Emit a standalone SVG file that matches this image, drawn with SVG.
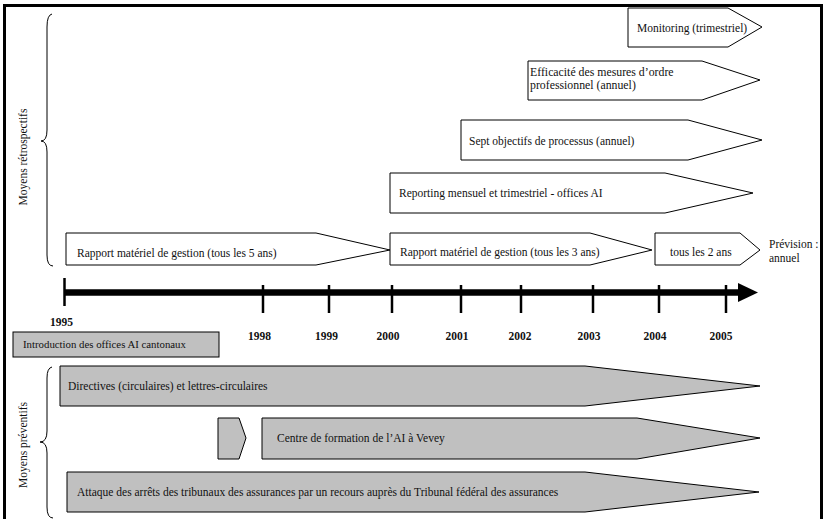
<svg xmlns="http://www.w3.org/2000/svg" width="826" height="519" viewBox="0 0 826 519">
<style>
text{font-family:"Liberation Serif","Times New Roman",serif;font-size:11.5px;fill:#111}
.yr{font-weight:bold;text-anchor:middle}
.w{fill:#fff;stroke:#000;stroke-width:1}
.g{fill:#c0c0c0;stroke:#000;stroke-width:1}
.br{fill:none;stroke:#000;stroke-width:1}
.tick{stroke:#000;stroke-width:2.5}
</style>
<rect width="826" height="519" fill="#fff"/>
<path d="M4.5,530 L4.5,5.5 L821.5,5.5 L821.5,530" fill="none" stroke="#000" stroke-width="3"/>

<g id="brace-retro">
<path class="br" d="M52,14 Q47,15 47,27 L47,130 Q47,141 41,141 Q47,141 47,152 L47,255 Q47,266 53,266"/>
<text transform="translate(27,157) rotate(-90)" text-anchor="middle">Moyens rétrospectifs</text>
</g>
<g id="brace-prev">
<path class="br" d="M52,367 Q47,368 47,378 L47,431 Q47,442 40,442 Q47,442 47,453 L47,507 Q47,518 53,518"/>
<text transform="translate(27,445) rotate(-90)" text-anchor="middle">Moyens préventifs</text>
</g>

<g id="monitoring">
<polygon class="w" points="628,8 728,8 762,27 728,47 628,47"/>
<text x="637" y="32">Monitoring (trimestriel)</text>
</g>
<g id="efficacite">
<polygon class="w" points="528,61 702,61 760,80 702,100 528,100"/>
<text x="530" y="75.5" style="font-size:11.8px">Efficacité des mesures d’ordre</text>
<text x="530" y="88.5" style="font-size:11.8px">professionnel (annuel)</text>
</g>
<g id="sept">
<polygon class="w" points="461,120 688,120 762,140 688,160 461,160"/>
<text x="469" y="145">Sept objectifs de processus (annuel)</text>
</g>
<g id="reporting">
<polygon class="w" points="390,173 665,173 753,193 665,213 390,213"/>
<text x="399" y="197">Reporting mensuel et trimestriel - offices AI</text>
</g>
<g id="rapport5">
<polygon class="w" points="66,233 316,233 390,250 316,265 66,265"/>
<text x="77" y="257">Rapport matériel de gestion (tous les 5 ans)</text>
</g>
<g id="rapport3">
<polygon class="w" points="390,233 590,233 652,250 590,265 390,265"/>
<text x="400" y="256">Rapport matériel de gestion (tous les 3 ans)</text>
</g>
<g id="rapport2">
<polygon class="w" points="655,233 740,233 760,250 740,265 655,265"/>
<text x="670" y="256">tous les 2 ans</text>
</g>
<g id="prevision">
<text x="769" y="248">Prévision :</text>
<text x="769" y="262">annuel</text>
</g>

<g id="timeline">
<line x1="64" y1="292.5" x2="740" y2="292.5" stroke="#000" stroke-width="6.5"/>
<polygon points="738,283 758,292.5 738,302" fill="#000"/>
<line class="tick" x1="64.5" y1="278" x2="64.5" y2="306"/>
<line class="tick" x1="263" y1="285" x2="263" y2="313"/>
<line class="tick" x1="329" y1="285" x2="329" y2="313"/>
<line class="tick" x1="392" y1="285" x2="392" y2="313"/>
<line class="tick" x1="461" y1="285" x2="461" y2="313"/>
<line class="tick" x1="521" y1="285" x2="521" y2="313"/>
<line class="tick" x1="593" y1="285" x2="593" y2="313"/>
<line class="tick" x1="659" y1="285" x2="659" y2="313"/>
<line class="tick" x1="726" y1="285" x2="726" y2="313"/>
<text class="yr" x="61.5" y="326">1995</text>
<text class="yr" x="259.5" y="340">1998</text>
<text class="yr" x="326.5" y="340">1999</text>
<text class="yr" x="388" y="340">2000</text>
<text class="yr" x="457" y="340">2001</text>
<text class="yr" x="520" y="340">2002</text>
<text class="yr" x="589" y="340">2003</text>
<text class="yr" x="655" y="340">2004</text>
<text class="yr" x="721" y="340">2005</text>
</g>

<g id="introduction">
<rect class="g" x="13" y="332" width="206" height="25"/>
<text x="23" y="348" style="font-size:10.8px">Introduction des offices AI cantonaux</text>
</g>
<g id="directives">
<polygon class="g" points="60,366 585,366 760,386 585,406 60,406"/>
<text x="68" y="390">Directives (circulaires) et lettres-circulaires</text>
</g>
<g id="centre-start">
<polygon class="g" points="218,418 239,418 246,438 239,459 218,459"/>
</g>
<g id="centre">
<polygon class="g" points="262,418 637,418 760,438 637,459 262,459"/>
<text x="277" y="442">Centre de formation de l’AI à Vevey</text>
</g>
<g id="attaque">
<polygon class="g" points="67,472 585,472 759,492 585,512 67,512"/>
<text x="77" y="496">Attaque des arrêts des tribunaux des assurances par un recours auprès du Tribunal fédéral des assurances</text>
</g>
<g id="connectors"></g>
</svg>
